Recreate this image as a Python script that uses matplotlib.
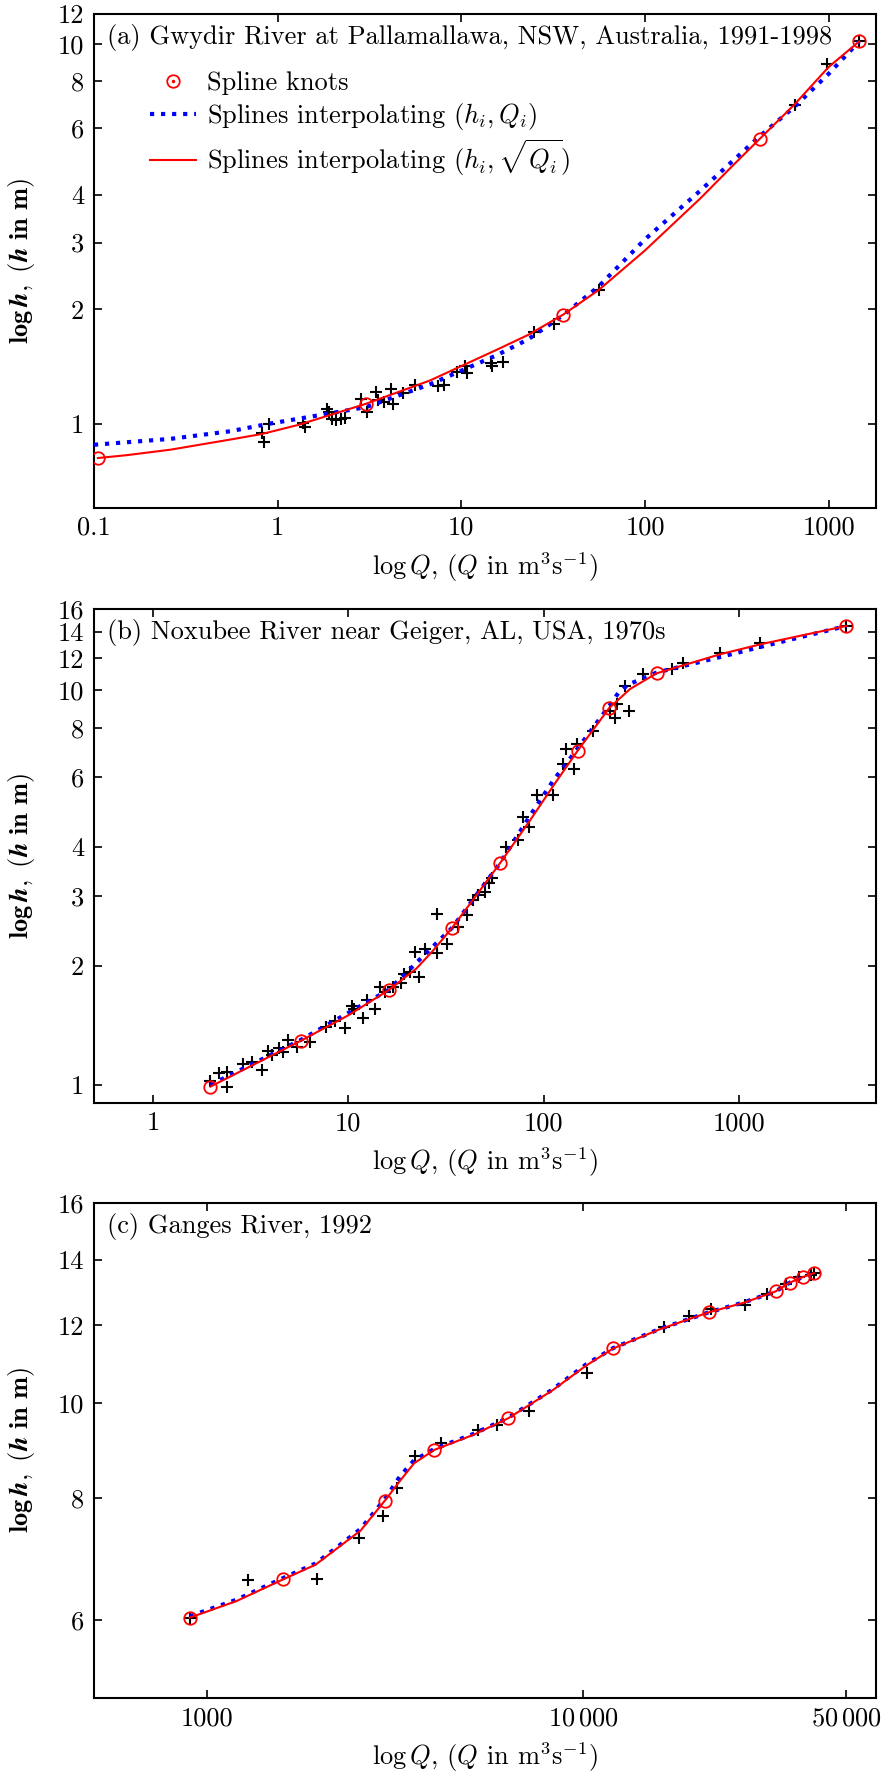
import numpy as np
import matplotlib.pyplot as plt
from matplotlib.lines import Line2D
from matplotlib.ticker import FixedLocator, FixedFormatter, NullLocator

plt.rcParams['font.family'] = 'serif'
plt.rcParams['font.serif'] = ['cmr10']
plt.rcParams['mathtext.fontset'] = 'cm'
plt.rcParams['axes.formatter.use_mathtext'] = True
plt.rcParams['font.size'] = 19

# ---- (a) Gwydir River ----
a_obs_q = [0.825, 0.846, 0.901, 1.37, 1.416, 1.85, 1.90, 1.97, 2.08, 2.21, 2.33, 2.85, 3.06,
           3.44, 4.15, 3.77, 4.27, 3.54, 4.80, 5.62, 7.51, 8.05, 9.45, 10.5, 10.8, 14.5, 14.7,
           16.8, 24.8, 31.8, 56, 655, 979, 1466]
a_obs_h = [0.945, 0.893, 1.0, 1.004, 0.98, 1.093, 1.075, 1.029, 1.02, 1.029, 1.033, 1.161, 1.071,
           1.214, 1.234, 1.138, 1.129, 1.152, 1.204, 1.266, 1.259, 1.266, 1.365, 1.42, 1.36, 1.444, 1.42,
           1.456, 1.745, 1.827, 2.25, 6.93, 8.84, 10.16]
a_knot_q = [0.105, 3.02, 35.8, 422, 1466]
a_knot_h = [0.812, 1.128, 1.937, 5.63, 10.16]
a_red_q = [0.105, 0.15, 0.26, 0.55, 0.825, 1.3, 3.02, 6.76, 15.6, 23.2, 35.8, 56, 100, 200, 300, 422, 655, 1000, 1466]
a_red_h = [0.812, 0.826, 0.854, 0.908, 0.94, 0.993, 1.128, 1.30, 1.566, 1.715, 1.937, 2.25, 2.86, 3.92, 4.78, 5.63, 6.95, 8.7, 10.16]
a_blue_q = [0.1, 0.26, 0.55, 0.9, 1.37, 3.03, 6.76, 15.6, 23.2, 35.8, 56, 100, 200, 422, 655, 1000, 1466]
a_blue_h = [0.88, 0.912, 0.955, 1.0, 1.035, 1.106, 1.27, 1.515, 1.67, 1.93, 2.3, 3.06, 4.11, 5.72, 6.85, 8.35, 10.16]

# ---- (b) Noxubee River ----
b_obs_q = [1.96, 2.19, 2.39, 2.39, 2.88, 3.20, 3.60, 3.90, 4.05, 4.44, 4.65, 4.93, 5.44, 6.37, 7.69,
           8.55, 9.61, 10.4, 10.7, 11.9, 12.4, 13.7, 14.5, 15.4, 17.0, 18.7, 19.3, 20.7, 23.1, 21.9,
           24.7, 28.3, 32.1, 28.3, 36.5, 40.6, 43.3, 46.2, 50.0, 52.6, 54.1, 64.0, 74.1, 77.9, 84.3,
           92.6, 111, 126, 130, 142, 147, 179, 218, 231, 236, 274, 260, 323, 450, 514, 792, 1277, 3530]
b_obs_h = [1.02, 1.07, 1.08, 0.99, 1.13, 1.146, 1.091, 1.22, 1.19, 1.238, 1.21, 1.30, 1.25, 1.287, 1.404,
           1.454, 1.39, 1.583, 1.553, 1.474, 1.64, 1.56, 1.765, 1.72, 1.765, 1.81, 1.91, 1.93, 1.88, 2.17,
           2.21, 2.16, 2.27, 2.71, 2.51, 2.69, 2.94, 3.02, 3.08, 3.24, 3.33, 4.0, 4.16, 4.76, 4.49,
           5.40, 5.43, 6.49, 7.08, 6.30, 7.29, 7.88, 8.85, 8.48, 9.20, 8.85, 10.2, 10.95, 11.25, 11.68, 12.4, 13.1, 14.5]
b_knot_q = [1.97, 5.72, 16.1, 34.0, 59.7, 149, 216, 377, 3530]
b_knot_h = [0.99, 1.294, 1.738, 2.5, 3.64, 7.01, 8.99, 11.0, 14.5]
b_red_q = [1.97, 5.72, 10, 16.1, 22.3, 27.2, 34.0, 45, 59.7, 85, 112, 149, 216, 250, 276, 377, 800, 1300, 3530]
b_red_h = [0.99, 1.294, 1.5, 1.738, 1.97, 2.19, 2.5, 3.01, 3.64, 4.67, 5.72, 7.01, 8.99, 9.6, 10.04, 11.0, 12.3, 13.05, 14.5]
b_blue_q = [1.97, 5.72, 16.1, 34.0, 59.7, 85, 112, 149, 216, 240, 270, 377, 800, 1300, 3530]
b_blue_h = [1.0, 1.30, 1.74, 2.5, 3.64, 4.8, 5.9, 7.1, 9.1, 9.8, 10.3, 11.05, 12.1, 12.85, 14.5]

# ---- (c) Ganges River ----
c_obs_q = [899, 1282, 1954, 2540, 2937, 3201, 3574, 4190, 5244, 5897, 7155, 10245, 16390, 19080,
           21890, 26930, 30720, 34650, 37520, 40200, 41040]
c_obs_h = [6.04, 6.60, 6.61, 7.28, 7.67, 8.20, 8.84, 9.10, 9.38, 9.49, 9.82, 10.72, 11.97, 12.27,
           12.47, 12.58, 12.93, 13.24, 13.45, 13.5, 13.57]
c_knot_q = [899, 1594, 2967, 4021, 6318, 12010, 21600, 32450, 35380, 38430, 41040]
c_knot_h = [6.04, 6.61, 7.95, 8.96, 9.65, 11.37, 12.38, 13.0, 13.27, 13.45, 13.57]
c_red_q = [899, 1197, 1594, 1941, 2228, 2557, 2967, 3256, 3548, 4021, 5101, 6318, 8270, 10170, 12010,
           15940, 21600, 26750, 32450, 35380, 38430, 41040]
c_red_h = [6.04, 6.28, 6.61, 6.84, 7.12, 7.41, 7.95, 8.33, 8.68, 8.96, 9.28, 9.65, 10.30, 10.92, 11.37,
           11.89, 12.38, 12.66, 13.0, 13.27, 13.45, 13.57]
c_blue_q = c_red_q
c_blue_h = [6.06, 6.30, 6.63, 6.86, 7.14, 7.44, 7.98, 8.42, 8.74, 8.98, 9.30, 9.66, 10.32, 10.95, 11.38,
            11.90, 12.38, 12.67, 13.0, 13.27, 13.45, 13.57]

panels = [
    dict(obs=(a_obs_q, a_obs_h), knots=(a_knot_q, a_knot_h), red=(a_red_q, a_red_h), blue=(a_blue_q, a_blue_h),
         xlim=(0.1, 1810), ylim=(0.6, 12),
         xticks=[0.1, 1, 10, 100, 1000], xlabels=['0.1', '1', '10', '100', '1000'],
         yticks=[1, 2, 3, 4, 6, 8, 10, 12],
         title='(a) Gwydir River at Pallamallawa, NSW, Australia, 1991-1998',
         pos=[0.1062, 0.7132, 0.8836, 0.2789]),
    dict(obs=(b_obs_q, b_obs_h), knots=(b_knot_q, b_knot_h), red=(b_red_q, b_red_h), blue=(b_blue_q, b_blue_h),
         xlim=(0.5, 5000), ylim=(0.9, 16),
         xticks=[1, 10, 100, 1000], xlabels=['1', '10', '100', '1000'],
         yticks=[1, 2, 3, 4, 6, 8, 10, 12, 14, 16],
         title='(b) Noxubee River near Geiger, AL, USA, 1970s',
         pos=[0.1062, 0.3772, 0.8836, 0.2789]),
    dict(obs=(c_obs_q, c_obs_h), knots=(c_knot_q, c_knot_h), red=(c_red_q, c_red_h), blue=(c_blue_q, c_blue_h),
         xlim=(500, 60000), ylim=(5, 16),
         xticks=[1000, 10000, 50000], xlabels=['1000', r'$10\,000$', r'$50\,000$'],
         yticks=[6, 8, 10, 12, 14, 16],
         title='(c) Ganges River, 1992',
         pos=[0.1062, 0.0412, 0.8836, 0.2795]),
]

fig = plt.figure(figsize=(8.85, 17.71), dpi=100)

for i, p in enumerate(panels):
    ax = fig.add_axes(p['pos'])
    ax.set_xscale('log')
    ax.set_yscale('log')
    ax.plot(p['obs'][0], p['obs'][1], 'k+', markersize=9, markeredgewidth=1.5, zorder=2)
    ax.plot(p['blue'][0], p['blue'][1], color='blue', linestyle=':', linewidth=3, zorder=3)
    ax.plot(p['red'][0], p['red'][1], color='red', linestyle='-', linewidth=1.5, zorder=4)
    ax.plot(p['knots'][0], p['knots'][1], 'o', markersize=9, markerfacecolor='none',
            markeredgecolor='red', markeredgewidth=1.3, zorder=5)
    ax.set_xlim(*p['xlim'])
    ax.set_ylim(*p['ylim'])
    ax.xaxis.set_major_locator(FixedLocator(p['xticks']))
    ax.xaxis.set_major_formatter(FixedFormatter(p['xlabels']))
    ax.yaxis.set_major_locator(FixedLocator(p['yticks']))
    ax.yaxis.set_major_formatter(FixedFormatter([str(t) for t in p['yticks']]))
    ax.xaxis.set_minor_locator(NullLocator())
    ax.yaxis.set_minor_locator(NullLocator())
    ax.tick_params(direction='in', length=6, width=1.2, top=True, right=True, labelsize=19)
    ax.tick_params(axis='y', pad=7)
    ax.tick_params(axis='x', pad=6)
    for s in ax.spines.values():
        s.set_linewidth(1.5)
    ax.text(0.017, 0.953, p['title'], transform=ax.transAxes, va='center', ha='left', fontsize=19)
    ax.set_xlabel(r'$\log Q$, ($Q$ in m$^3$s$^{-1}$)', fontsize=19)
    ax.set_ylabel(r'$\mathbf{log}\,\boldsymbol{h}\mathbf{,\ (}\boldsymbol{h}\mathbf{\ in\ m)}$', fontsize=19)
    ax.yaxis.set_label_coords(-0.073, 0.5)
    ax.xaxis.set_label_coords(0.5, -0.085)

    if i == 0:
        knot_h = (Line2D([], [], marker='o', markersize=9, markerfacecolor='none', markeredgecolor='red',
                         markeredgewidth=1.3, linestyle='none'),
                  Line2D([], [], marker='.', markersize=3, color='red', linestyle='none'))
        blue_h = Line2D([], [], color='blue', linestyle=':', linewidth=3)
        red_h = Line2D([], [], color='red', linewidth=1.5)
        ax.legend([knot_h, blue_h, red_h],
                  ['Spline knots', r'Splines interpolating $(h_i,Q_i)$',
                   r'Splines interpolating $(h_i,\sqrt{Q_i})$'],
                  loc='upper left', bbox_to_anchor=(0.058, 0.905), frameon=False,
                  handlelength=1.75, handletextpad=0.4, labelspacing=0.22, fontsize=19,
                  borderaxespad=0)

fig.savefig('out.png', dpi=100)
